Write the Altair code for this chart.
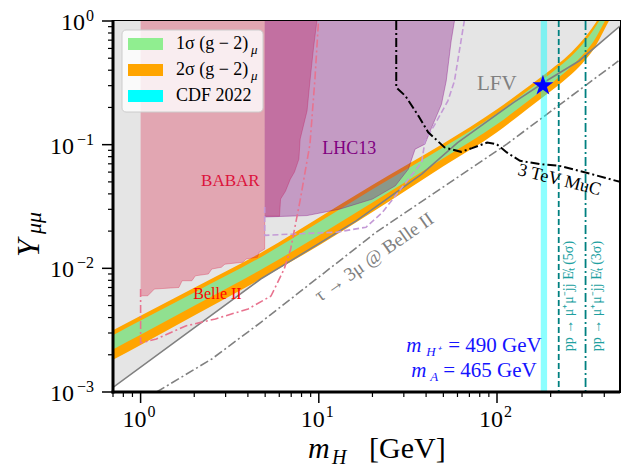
import altair as alt
import pandas as pd

W, H = 507, 371
SERIF = "Liberation Serif"

# ---------------- data ----------------
band_m  = [0.7, 1, 2, 5, 10, 20, 50, 100, 150, 200, 250, 300, 350, 400, 440]
sig2_hi = [3.16e-3, 4.14e-3, 6.97e-3, 1.40e-2, 2.57e-2, 4.73e-2, 0.102, 0.193, 0.295, 0.403, 0.525, 0.692, 0.923, 1.26, 1.58]
sig2_lo = [1.82e-3, 2.40e-3, 4.15e-3, 8.59e-3, 1.53e-2, 2.85e-2, 6.68e-2, 0.126, 0.197, 0.270, 0.351, 0.452, 0.596, 0.851, 1.10]
sig1_hi = [2.88e-3, 3.78e-3, 6.38e-3, 1.29e-2, 2.36e-2, 4.35e-2, 9.53e-2, 0.179, 0.275, 0.377, 0.490, 0.644, 0.857, 1.18, 1.49]
sig1_lo = [2.21e-3, 2.90e-3, 4.98e-3, 1.02e-2, 1.84e-2, 3.40e-2, 7.76e-2, 0.146, 0.227, 0.311, 0.404, 0.525, 0.693, 0.977, 1.25]

lfv_m = [0.7, 4.72, 6.95, 16.2, 37.8, 60.1, 123.6, 188.8, 288.4, 490]
lfv_y = [1.09e-3, 8.2e-3, 1.15e-2, 2.42e-2, 5.78e-2, 0.104, 0.219, 0.327, 0.475, 0.91]

babar_m = [1.0, 1.097, 1.195, 1.64, 1.71, 1.94, 2.03, 2.40, 2.51, 2.84, 2.97, 3.75, 3.91, 4.53, 4.63, 4.97,
           4.971, 6.02, 6.10, 6.5, 6.92, 7.3, 7.73, 7.86, 8.59, 8.92, 9.35, 9.75]
babar_y = [6.0e-3, 6.0e-3, 6.8e-3, 7.0e-3, 7.94e-3, 7.94e-3, 8.7e-3, 9.0e-3, 9.87e-3, 1.02e-2, 1.08e-2, 1.12e-2,
           1.19e-2, 1.23e-2, 1.35e-2, 1.43e-2, 0.0264, 0.0264, 0.0363, 0.042, 0.0526, 0.060, 0.0764, 0.111,
           0.1875, 0.327, 0.613, 1.0]

lhc_m = [4.97, 8.58, 13.1, 20.0, 26.9, 31.8, 34.7, 39.4, 43.0, 48.8, 51.9, 55.3, 57.7]
lhc_y = [0.026, 0.0267, 0.0301, 0.0363, 0.0465, 0.0634, 0.092, 0.101, 0.138, 0.212, 0.328, 0.69, 1.0]

lhcp_m = [4.97, 4.97, 12.6, 18.4, 22.7, 37.8, 39.4, 44.8, 53.0, 57.7, 62.8, 65.5]
lhcp_y = [0.0313, 0.0185, 0.0196, 0.0215, 0.0283, 0.0718, 0.107, 0.146, 0.226, 0.327, 0.69, 1.0]

belle_m = [1.0, 1.0, 1.225, 1.79, 2.63, 4.01, 5.39, 6.39, 6.95, 7.88, 8.92, 9.51, 9.96]
belle_y = [6.8e-3, 2.49e-3, 2.68e-3, 3.42e-3, 3.9e-3, 4.69e-3, 5.97e-3, 9.87e-3, 1.43e-2, 3.63e-2, 0.101, 0.338, 1.0]

tau_m = [1.23, 2.51, 4.73, 20.9, 113.5, 480]
tau_y = [1.0e-3, 1.85e-3, 3.66e-3, 1.95e-2, 0.101, 0.475]

muc_m = [27.2, 27.2, 30.6, 36.2, 41.1, 50.8, 62.8, 72.5, 88.1, 99.6, 113.5, 134.6, 173.4, 223.7, 313.6, 490]
muc_y = [1.0, 0.29, 0.248, 0.171, 0.126, 0.095, 0.0875, 0.0937, 0.104, 0.101, 0.0865, 0.074, 0.0696, 0.0674, 0.0596, 0.050]

cdf_lo, cdf_hi = [176.0], [191.0]
lhc_5sigma = [222.0]
lhc_3sigma = [314.0]
star_m, star_y = [181.0], [0.30]

leg_labels = ["1σ (g − 2)", "2σ (g − 2)", "CDF 2022"]
leg_subs = ["μ", "μ", ""]
leg_colors = ["#90ee90", "#ffa500", "#00ffff"]

x_major = [1, 10, 100]
x_exp = ["0", "1", "2"]
x_minor = [0.7, 0.8, 0.9, 2, 3, 4, 5, 6, 7, 8, 9, 20, 30, 40, 50, 60, 70, 80, 90, 200, 300, 400]
y_major = [1.0, 0.1, 0.01, 0.001]
y_exp = ["0", "−1", "−2", "−3"]
y_minor = [k * 10.0 ** e for e in (-3, -2, -1) for k in range(2, 10)]

STAR = ("M0,-1L0.2245,-0.309L0.951,-0.309L0.3633,0.118L0.588,0.809L0,0.382"
        "L-0.588,0.809L-0.3633,0.118L-0.951,-0.309L-0.2245,-0.309Z")

# ---------------- helpers ----------------
xs = alt.Scale(type="log", domain=[0.7, 490], nice=False)
ys = alt.Scale(type="log", domain=[1e-3, 1], nice=False)


def X(f="m"):
    return alt.X(f"{f}:Q", scale=xs, axis=None)


def Y(f="y"):
    return alt.Y(f"{f}:Q", scale=ys, axis=None, stack=None)


def line_df(ms, ys_):
    return pd.DataFrame({"m": ms, "y": ys_, "i": list(range(len(ms)))})


def curve(ms, ys_, color, width=1.5, dash=None, opacity=1.0):
    kw = dict(color=color, strokeWidth=width, clip=True, opacity=opacity)
    if dash:
        kw["strokeDash"] = dash
    return alt.Chart(line_df(ms, ys_)).mark_line(**kw).encode(
        x=X(), y=Y(), order=alt.Order("i:Q"))


def label(m, y, text, color, size, angle=0, align="center", baseline="middle",
          style="normal", dx=0, dy=0):
    return alt.Chart(pd.DataFrame({"m": [m], "y": [y], "t": [text]})).mark_text(
        font=SERIF, fontSize=size, color=color, angle=angle, align=align,
        baseline=baseline, fontStyle=style, dx=dx, dy=dy).encode(
        x=X(), y=Y(), text="t:N")


one = pd.DataFrame({"a": [0]})

# ---------------- layers ----------------
band = pd.DataFrame({"m": band_m, "h2": sig2_hi, "l2": sig2_lo, "h1": sig1_hi, "l1": sig1_lo})

lfv_fill = alt.Chart(line_df(lfv_m, lfv_y)).mark_area(color="#e5e5e5", clip=True).encode(
    x=X(), y=Y(), y2=alt.value(0))
orange = alt.Chart(band).mark_area(color="#ffa500", clip=True, interpolate="monotone").encode(
    x=X(), y=Y("l2"), y2="h2:Q")
green = alt.Chart(band).mark_area(color="#90e090", clip=True, interpolate="monotone").encode(
    x=X(), y=Y("l1"), y2="h1:Q")
lfv_line = curve(lfv_m, lfv_y, "#808080", 1.6)

babar = alt.Chart(line_df(babar_m, babar_y)).mark_area(color="#dc143c", opacity=0.3, clip=True).encode(
    x=X(), y=Y(), y2=alt.value(0))
babar_edge = curve(babar_m, babar_y, "#dc143c", 1.0, opacity=0.3)
lhc = alt.Chart(line_df(lhc_m, lhc_y)).mark_area(color="#800080", opacity=0.32, clip=True).encode(
    x=X(), y=Y(), y2=alt.value(0))
lhc_edge = curve(lhc_m, lhc_y, "#800080", 1.0, opacity=0.35)

lhcp = curve(lhcp_m, lhcp_y, "#c49ad6", 1.6, dash=[6, 3])
belle = curve(belle_m, belle_y, "#e8738f", 1.6, dash=[8, 3, 2, 3])
tau = curve(tau_m, tau_y, "#808080", 1.6, dash=[9, 3, 2, 3])
muc = curve(muc_m, muc_y, "black", 2.0, dash=[9, 3, 2, 3])

cdf = alt.Chart(pd.DataFrame({"a": cdf_lo, "b": cdf_hi})).mark_rect(color="#00ffff", opacity=0.45).encode(
    x=alt.X("a:Q", scale=xs, axis=None), x2="b:Q")
teal5 = alt.Chart(pd.DataFrame({"m": lhc_5sigma})).mark_rule(color="#008080", strokeWidth=1.8, strokeDash=[6, 3]).encode(x=X())
teal3 = alt.Chart(pd.DataFrame({"m": lhc_3sigma})).mark_rule(color="#008080", strokeWidth=1.8, strokeDash=[9, 3, 2, 3]).encode(x=X())

star = alt.Chart(pd.DataFrame({"m": star_m, "y": star_y})).mark_point(
    shape=STAR, filled=True, color="#0000ff", size=480, opacity=1).encode(x=X(), y=Y())

BLUE = "#1414ff"
texts = [
    label(3.19, 0.0507, "BABAR", "#dc143c", 17),
    label(14.8, 0.092, "LHC13", "#800080", 18),
    label(2.70, 6.19e-3, "Belle II", "#ff0000", 16),
    label(99.8, 0.308, "LFV", "#808080", 21),
    label(224, 0.0515, "3 TeV MuC", "black", 18, angle=14),
    label(20.4, 0.0123, "τ → 3μ @ Belle II", "#808080", 19, angle=325),
    label(254, 5.97e-3, "pp → μ⁺μ⁻jj E̸ₜ (5σ)", "#20a0a0", 14, angle=270),
    label(364, 5.97e-3, "pp → μ⁺μ⁻jj E̸ₜ (3σ)", "#20a0a0", 14, angle=270),
    # mass annotation
    label(29.4, 2.03e-3, "m", BLUE, 21, align="left", baseline="alphabetic", style="italic", dx=4, dy=-2),
    label(29.4, 2.03e-3, "H⁺", BLUE, 13, align="left", baseline="alphabetic", style="italic", dx=24, dy=2),
    label(29.4, 2.03e-3, "= 490 GeV", BLUE, 21, align="left", baseline="alphabetic", dx=46, dy=-2),
    label(29.4, 1.38e-3, "m", BLUE, 21, align="left", baseline="alphabetic", style="italic", dx=9, dy=2),
    label(29.4, 1.38e-3, "A", BLUE, 13, align="left", baseline="alphabetic", style="italic", dx=28, dy=6),
    label(29.4, 1.38e-3, "= 465 GeV", BLUE, 21, align="left", baseline="alphabetic", dx=41, dy=2),
]

# ---------------- legend ----------------
leg_df = pd.DataFrame({"lab": leg_labels, "sub": leg_subs, "col": leg_colors, "i": [0, 1, 2]})
leg_box = alt.Chart(one).mark_rect(fill="white", fillOpacity=0.8, stroke="#cccccc", strokeWidth=1,
                                   cornerRadius=4).encode(
    x=alt.value(9), x2=alt.value(150), y=alt.value(9), y2=alt.value(91))
leg_patch = alt.Chart(leg_df).transform_calculate(
    y0="17 + 26*datum.i", y1="29 + 26*datum.i").mark_rect().encode(
    x=alt.value(15), x2=alt.value(50), y=alt.Y("y0:Q", scale=None), y2="y1:Q",
    color=alt.Color("col:N", scale=None))
leg_text = alt.Chart(leg_df).transform_calculate(yy="23 + 26*datum.i").mark_text(
    font=SERIF, fontSize=18, align="left", baseline="middle", color="black").encode(
    x=alt.value(63), y=alt.Y("yy:Q", scale=None), text="lab:N")
leg_sub = alt.Chart(leg_df).transform_calculate(yy="29 + 26*datum.i").mark_text(
    font=SERIF, fontSize=13, align="left", baseline="middle", fontStyle="italic", color="black").encode(
    x=alt.value(138), y=alt.Y("yy:Q", scale=None), text="sub:N")

# ---------------- axes (ticks, labels, titles, frame) ----------------
xt_major = alt.Chart(pd.DataFrame({"m": x_major})).mark_rule(color="black", strokeWidth=1.5).encode(
    x=X(), y=alt.value(H), y2=alt.value(H + 11))
xt_minor = alt.Chart(pd.DataFrame({"m": x_minor})).mark_rule(color="black", strokeWidth=1.2).encode(
    x=X(), y=alt.value(H), y2=alt.value(H + 5))
yt_major = alt.Chart(pd.DataFrame({"y": y_major})).mark_rule(color="black", strokeWidth=1.5).encode(
    y=Y(), x=alt.value(0), x2=alt.value(-11))
yt_minor = alt.Chart(pd.DataFrame({"y": y_minor})).mark_rule(color="black", strokeWidth=1.2).encode(
    y=Y(), x=alt.value(0), x2=alt.value(-5))

xl_df = pd.DataFrame({"m": x_major, "e": x_exp, "b": ["10"] * 3})
xl_base = alt.Chart(xl_df).mark_text(font=SERIF, fontSize=24, align="right", baseline="alphabetic", dx=6).encode(
    x=X(), y=alt.value(H + 35), text="b:N")
xl_exp = alt.Chart(xl_df).mark_text(font=SERIF, fontSize=16, align="left", baseline="alphabetic", dx=7).encode(
    x=X(), y=alt.value(H + 25), text="e:N")

yl_df = pd.DataFrame({"y": y_major, "e": y_exp, "b": ["10"] * 4})
yl_exp = alt.Chart(yl_df).mark_text(font=SERIF, fontSize=16, align="right", baseline="alphabetic", dy=0).encode(
    y=Y(), x=alt.value(-19), text="e:N")
yl_base0 = alt.Chart(yl_df).transform_filter("datum.e == '0'").mark_text(
    font=SERIF, fontSize=24, align="right", baseline="alphabetic", dy=9).encode(
    y=Y(), x=alt.value(-28), text="b:N")
yl_baseN = alt.Chart(yl_df).transform_filter("datum.e != '0'").mark_text(
    font=SERIF, fontSize=24, align="right", baseline="alphabetic", dy=9).encode(
    y=Y(), x=alt.value(-39), text="b:N")

xtitle = [
    alt.Chart(one).mark_text(font=SERIF, fontSize=30, fontStyle="italic", align="left", baseline="alphabetic").encode(
        x=alt.value(195), y=alt.value(437), text=alt.value("m")),
    alt.Chart(one).mark_text(font=SERIF, fontSize=20, fontStyle="italic", align="left", baseline="alphabetic").encode(
        x=alt.value(219), y=alt.value(443), text=alt.value("H")),
    alt.Chart(one).mark_text(font=SERIF, fontSize=30, align="left", baseline="alphabetic").encode(
        x=alt.value(256), y=alt.value(437), text=alt.value("[GeV]")),
]
ytitle = [
    alt.Chart(one).mark_text(font=SERIF, fontSize=32, fontStyle="italic", align="left", baseline="alphabetic", angle=270).encode(
        x=alt.value(-74), y=alt.value(236), text=alt.value("Y")),
    alt.Chart(one).mark_text(font=SERIF, fontSize=22, fontStyle="italic", align="left", baseline="alphabetic", angle=270).encode(
        x=alt.value(-72), y=alt.value(213), text=alt.value("μμ")),
]

left_spine = alt.Chart(one).mark_rule(color="black", strokeWidth=3).encode(
    x=alt.value(0), y=alt.value(-1), y2=alt.value(H + 1.5))
bottom_spine = alt.Chart(one).mark_rule(color="black", strokeWidth=3).encode(
    y=alt.value(H), x=alt.value(-1.5), x2=alt.value(W))

chart = alt.layer(
    lfv_fill, orange, green, lfv_line, babar, babar_edge, lhc, lhc_edge,
    lhcp, belle, tau, cdf, teal5, teal3, muc, star,
    *texts,
    leg_box, leg_patch, leg_text, leg_sub,
    xt_major, xt_minor, yt_major, yt_minor, xl_base, xl_exp, yl_exp, yl_base0, yl_baseN,
    *xtitle, *ytitle, left_spine, bottom_spine,
).properties(
    width=W, height=H,
    autosize=alt.AutoSizeParams(type="none"),
    padding={"left": 105, "top": 13, "right": 3, "bottom": 76},
    background="white",
).configure_view(stroke="black", strokeWidth=2)

chart.save("out.html", embed_options={"renderer": "svg", "actions": False})
